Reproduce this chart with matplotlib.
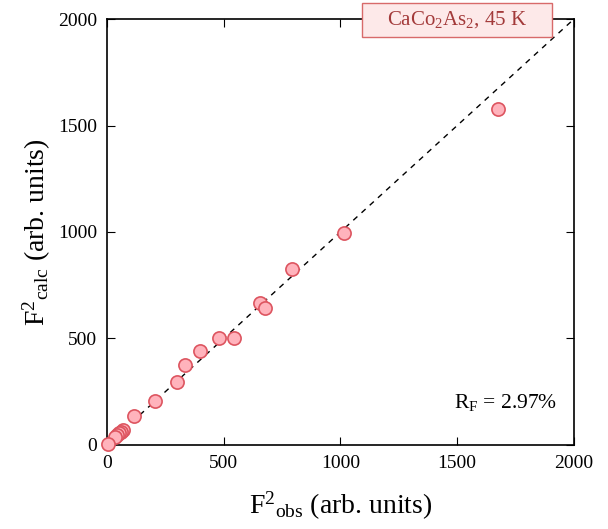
import numpy as np
import matplotlib as mpl
mpl.use('Agg')
import matplotlib.pyplot as plt
from matplotlib.patches import Rectangle

plt.rcParams['font.family'] = ['Liberation Serif', 'DejaVu Serif']
plt.rcParams['mathtext.fontset'] = 'custom'
plt.rcParams['mathtext.rm'] = 'Liberation Serif'
plt.rcParams['mathtext.it'] = 'Liberation Serif:italic'

# observed vs calculated intensities
f2_obs = [1675, 1015, 792, 655, 677, 544, 480, 398, 334, 300, 206, 116,
          67, 60, 51, 43, 34, 4]
f2_calc = [1577, 995, 826, 667, 643, 502, 502, 441, 376, 296, 207, 136,
           70, 61, 56, 47, 38, 5]
ticks = [0, 500, 1000, 1500, 2000]

fig = plt.figure(figsize=(6.08, 5.29), dpi=100)
ax = fig.add_axes([0.176, 0.159, 0.768, 0.805])
ax.plot([0, 2000], [0, 2000], ls=(0, (4, 4)), color='black', lw=1.0)
ax.plot(f2_obs, f2_calc, 'o', ms=9.5, mfc='#ffb3bc', mec='#dd5560', mew=1.2,
        clip_on=False, zorder=4)
ax.set_xlim(0, 2000)
ax.set_ylim(0, 2000)
ax.set_xticks(ticks)
ax.set_yticks(ticks)
ax.tick_params(direction='in', top=True, right=True, labelsize=14, length=6, pad=7)
for s in ax.spines.values():
    s.set_linewidth(1.2)
ax.set_xlabel(r'F$^{2}{}_{\mathrm{obs}}$ (arb. units)', fontsize=20, labelpad=13)
ax.set_ylabel(r'F$^{2}{}_{\mathrm{calc}}$ (arb. units)', fontsize=20, labelpad=4)

# title box straddling the top spine
box = Rectangle((0.546, 0.958), 0.407, 0.08, transform=ax.transAxes,
                fc='#fde9e9', ec='#d86a6a', lw=1.0, clip_on=False, zorder=5)
ax.add_patch(box)
ax.text(0.7495, 0.998, r'CaCo$_2$As$_2$, 45 K', transform=ax.transAxes, ha='center',
        va='center', fontsize=15, color='#a33a3a', zorder=6)
ax.text(0.964, 0.10, r'R$_\mathrm{F}$ = 2.97%', transform=ax.transAxes, ha='right',
        va='center', fontsize=15.5)

fig.savefig('out.png', dpi=100)
plt.close()
